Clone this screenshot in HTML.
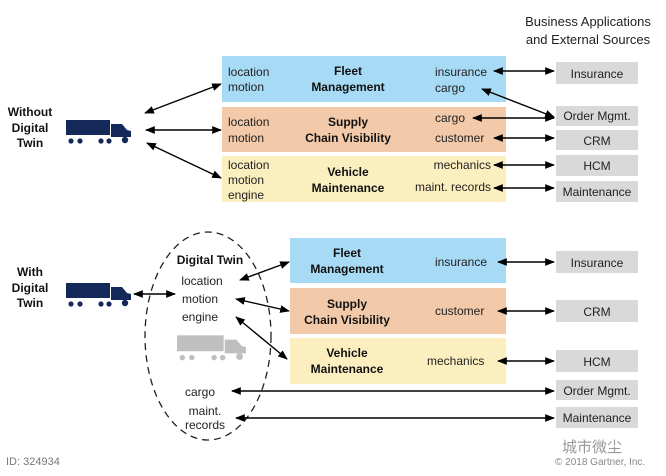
<!DOCTYPE html>
<html><head><meta charset="utf-8"><style>
html,body{margin:0;padding:0;background:#fff;}
svg{display:block;font-family:"Liberation Sans","Noto Sans CJK SC",sans-serif;}
</style></head><body>
<svg width="666" height="476" viewBox="0 0 666 476" xmlns="http://www.w3.org/2000/svg">
<defs>
<marker id="a" viewBox="0 0 10 10" refX="9" refY="5" markerWidth="7" markerHeight="7" orient="auto-start-reverse"><path d="M0,1 L10,5 L0,9 z" fill="#000"/></marker>
<symbol id="truck" viewBox="0 0 66 26">
<rect x="0" y="2" width="44" height="15"/>
<path d="M45,6 H56 L61,12 L65,13 V19 H45 Z"/>
<circle cx="5" cy="23" r="2.6"/><circle cx="14" cy="23" r="2.6"/><circle cx="35" cy="23" r="2.6"/><circle cx="43" cy="23" r="2.6"/><circle cx="59" cy="22" r="3.2"/>
</symbol>
</defs>
<g font-size="13" fill="#222">
<text x="588" y="26" text-anchor="middle">Business Applications</text>
<text x="588" y="44" text-anchor="middle">and External Sources</text>
</g>
<rect x="222" y="56" width="284" height="46" fill="#a7daf4"/>
<rect x="222" y="107" width="284" height="45" fill="#f2caa9"/>
<rect x="222" y="156" width="284" height="46" fill="#fcefbf"/>
<g fill="#d9d9d9">
<rect x="556" y="62" width="82" height="22"/>
<rect x="556" y="106" width="82" height="20"/>
<rect x="556" y="130" width="82" height="20"/>
<rect x="556" y="155" width="82" height="21"/>
<rect x="556" y="181" width="82" height="21"/>
<rect x="556" y="251" width="82" height="22"/>
<rect x="556" y="300" width="82" height="22"/>
<rect x="556" y="350" width="82" height="22"/>
<rect x="556" y="380" width="82" height="20"/>
<rect x="556" y="407" width="82" height="21"/>
</g>
<rect x="290" y="238" width="216" height="45" fill="#a7daf4"/>
<rect x="290" y="288" width="216" height="46" fill="#f2caa9"/>
<rect x="290" y="338" width="216" height="46" fill="#fcefbf"/>
<g font-size="12" fill="#222">
<text x="228" y="76">location</text><text x="228" y="91">motion</text>
<text x="228" y="126">location</text><text x="228" y="142">motion</text>
<text x="228" y="169">location</text><text x="228" y="184">motion</text><text x="228" y="199">engine</text>
<text x="435" y="76">insurance</text><text x="435" y="92">cargo</text>
<text x="435" y="122">cargo</text><text x="435" y="142">customer</text>
<text x="491" y="169" text-anchor="end">mechanics</text><text x="491" y="191" text-anchor="end">maint. records</text>
<text x="597" y="78" text-anchor="middle">Insurance</text>
<text x="597" y="120" text-anchor="middle">Order Mgmt.</text>
<text x="597" y="145" text-anchor="middle">CRM</text>
<text x="597" y="170" text-anchor="middle">HCM</text>
<text x="597" y="196" text-anchor="middle">Maintenance</text>
<text x="597" y="267" text-anchor="middle">Insurance</text>
<text x="597" y="316" text-anchor="middle">CRM</text>
<text x="597" y="366" text-anchor="middle">HCM</text>
<text x="597" y="395" text-anchor="middle">Order Mgmt.</text>
<text x="597" y="422" text-anchor="middle">Maintenance</text>
<text x="435" y="266">insurance</text>
<text x="435" y="315">customer</text>
<text x="427" y="365">mechanics</text>
<text x="202" y="285" text-anchor="middle">location</text>
<text x="200" y="303" text-anchor="middle">motion</text>
<text x="200" y="321" text-anchor="middle">engine</text>
<text x="200" y="396" text-anchor="middle">cargo</text>
<text x="205" y="415" text-anchor="middle">maint.</text>
<text x="205" y="429" text-anchor="middle">records</text>
</g>
<g font-size="12" font-weight="bold" fill="#111" text-anchor="middle">
<text x="348" y="75">Fleet</text><text x="348" y="91">Management</text>
<text x="348" y="126">Supply</text><text x="348" y="142">Chain Visibility</text>
<text x="348" y="176">Vehicle</text><text x="348" y="192">Maintenance</text>
<text x="347" y="257">Fleet</text><text x="347" y="273">Management</text>
<text x="347" y="308">Supply</text><text x="347" y="324">Chain Visibility</text>
<text x="347" y="357">Vehicle</text><text x="347" y="373">Maintenance</text>
<text x="30" y="116">Without</text><text x="30" y="132">Digital</text><text x="30" y="147">Twin</text>
<text x="30" y="276">With</text><text x="30" y="292">Digital</text><text x="30" y="307">Twin</text>
<text x="210" y="264">Digital Twin</text>
</g>
<use href="#truck" x="66" y="118" width="66" height="26" fill="#14285a"/>
<use href="#truck" x="66" y="281" width="66" height="26" fill="#14285a"/>
<use href="#truck" x="177" y="333" width="70" height="28" fill="#bfbfbf"/>
<ellipse cx="208" cy="336" rx="63" ry="104" fill="none" stroke="#222" stroke-width="1.3" stroke-dasharray="7,5"/>
<g stroke="#000" stroke-width="1.4" fill="none" marker-start="url(#a)" marker-end="url(#a)">
<line x1="145" y1="113" x2="221" y2="84"/>
<line x1="146" y1="130" x2="221" y2="130"/>
<line x1="147" y1="143" x2="221" y2="178"/>
<line x1="494" y1="71" x2="554" y2="71"/>
<line x1="482" y1="89" x2="554" y2="117"/>
<line x1="473" y1="118" x2="554" y2="118"/>
<line x1="494" y1="138" x2="554" y2="138"/>
<line x1="494" y1="165" x2="554" y2="165"/>
<line x1="494" y1="188" x2="554" y2="188"/>
<line x1="134" y1="294" x2="175" y2="294"/>
<line x1="240" y1="280" x2="289" y2="262"/>
<line x1="236" y1="299" x2="289" y2="311"/>
<line x1="236" y1="317" x2="287" y2="359"/>
<line x1="498" y1="262" x2="554" y2="262"/>
<line x1="498" y1="311" x2="554" y2="311"/>
<line x1="498" y1="361" x2="554" y2="361"/>
<line x1="232" y1="391" x2="554" y2="391"/>
<line x1="236" y1="418" x2="554" y2="418"/>
</g>
<text x="6" y="465" font-size="11" fill="#777">ID: 324934</text>
<text x="592" y="452" font-size="15" fill="#999" text-anchor="middle">城市微尘</text>
<text x="555" y="465" font-size="10" fill="#888">© 2018 Gartner, Inc.</text>
</svg>
</body></html>
